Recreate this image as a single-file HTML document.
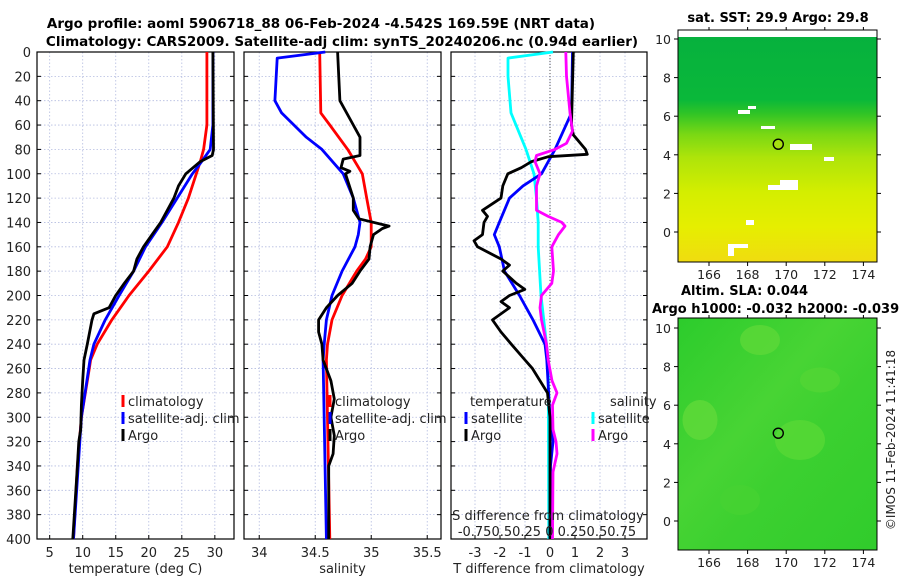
<!DOCTYPE html>
<html><head><meta charset="utf-8"><style>
body{margin:0;background:#fff}
svg text{font-family:"DejaVu Sans","Liberation Sans",sans-serif;fill:#222}
</style></head><body>
<svg id="fig" width="900" height="580" viewBox="0 0 900 580" xmlns="http://www.w3.org/2000/svg">
<defs>
<linearGradient id="sstg" x1="0" y1="0" x2="0" y2="1">
<stop offset="0" stop-color="#06b03e"/><stop offset="0.3" stop-color="#0ab83a"/><stop offset="0.36" stop-color="#30c426"/>
<stop offset="0.45" stop-color="#7ad814"/><stop offset="0.55" stop-color="#aee40a"/><stop offset="0.7" stop-color="#d4ee00"/>
<stop offset="0.85" stop-color="#e6ee00"/><stop offset="1" stop-color="#f0dc10"/></linearGradient>
<linearGradient id="slag" x1="0" y1="0" x2="1" y2="1">
<stop offset="0" stop-color="#2ccc2c"/><stop offset="0.4" stop-color="#48d434"/><stop offset="0.6" stop-color="#3cd030"/><stop offset="1" stop-color="#30cc2c"/></linearGradient>
</defs>
<text x="321" y="28" font-size="13.5" font-weight="bold" text-anchor="middle" style="fill:#000">Argo profile: aoml 5906718_88 06-Feb-2024 -4.542S 169.59E (NRT data)</text>
<text x="342" y="46" font-size="13.5" font-weight="bold" text-anchor="middle" style="fill:#000">Climatology: CARS2009. Satellite-adj clim: synTS_20240206.nc (0.94d earlier)</text>
<g id="p1"></g>
<g id="p2"></g>
<g id="p3"></g>
<g id="maps"></g>
<text transform="translate(895,440) rotate(-90)" font-size="12" text-anchor="middle">©IMOS 11-Feb-2024 11:41:18</text>
</svg>
<script>
// ---- data ----
const tempClimDepth = [0,60,80,90,100,120,140,160,180,200,220,240,253,260,300,340,400];
const tempClim      = [28.8,28.8,28.3,27.8,27.2,26,24.5,22.8,20,17,14.4,12.2,11.2,11,9.8,9.2,8.6];
const tempSatDepth  = [0,60,80,90,100,120,140,160,180,200,220,240,253,300,400];
const tempSat       = [29.7,29.7,29.3,28,26.6,24.3,22,19.5,17.7,15.5,13.4,11.7,11.1,9.8,8.6];
const tempArgoDepth = [0,80,85,90,100,110,120,130,140,150,160,170,180,190,200,210,215,220,240,253,270,290,310,320,340,400];
const tempArgo      = [29.7,29.8,29.6,27.8,25.6,24.5,23.8,22.8,21.8,20.5,19.2,18.2,17.7,16.3,15,14,11.7,11.4,10.7,10.2,10,9.8,9.7,9.4,9.2,8.5];
const salClimDepth  = [0,50,60,80,100,120,140,160,170,180,200,220,240,253,400];
const salClim       = [34.54,34.55,34.63,34.79,34.92,34.96,35.0,35.0,34.95,34.87,34.74,34.65,34.61,34.6,34.63];
const salSatDepth   = [0,5,40,50,70,80,100,120,140,150,160,180,200,220,240,253,400];
const salSat        = [34.59,34.16,34.14,34.2,34.42,34.56,34.75,34.84,34.9,34.885,34.855,34.74,34.65,34.6,34.58,34.57,34.6];
const salArgoDepth  = [0,40,60,70,85,88,95,98,100,120,130,137,143,145,150,160,170,180,190,200,210,220,230,240,253,270,285,300,315,330,340,400];
const salArgo       = [34.7,34.72,34.84,34.9,34.9,34.75,34.73,34.81,34.77,34.84,34.84,34.89,35.16,35.1,35.02,34.99,34.98,34.9,34.83,34.7,34.6,34.53,34.53,34.56,34.57,34.64,34.67,34.64,34.67,34.66,34.62,34.62];
const dTSatDepth    = [0,50,80,100,110,120,140,150,160,180,200,220,240,253,300,320,340,400];
const dTSat         = [0.9,0.86,0.2,-0.34,-1.08,-1.62,-2.03,-2.23,-2.03,-1.82,-1.22,-0.68,-0.2,-0.13,0,0.12,0.02,0];
const dTArgoDepth   = [0,60,68,80,84,86,90,95,100,110,120,130,135,140,150,155,160,170,175,180,190,195,200,205,210,220,230,240,253,260,280,300,400];
const dTArgo        = [0.93,0.86,0.93,1.42,1.49,-0.07,-0.74,-1.15,-1.69,-1.89,-1.96,-2.7,-2.5,-2.64,-2.7,-3.04,-2.9,-1.96,-1.62,-1.89,-1.35,-1.01,-1.62,-1.96,-1.62,-2.3,-1.96,-1.55,-1.0,-0.7,-0.1,0,0];
const dSSatDepth    = [0,5,20,50,80,100,120,140,160,200,240,253,400];
const dSSat         = [0.03,-0.42,-0.42,-0.39,-0.24,-0.16,-0.135,-0.118,-0.118,-0.09,-0.035,-0.018,-0.012];
const dSArgoDepth   = [0,20,50,65,75,80,85,90,100,110,130,135,140,143,150,160,180,190,200,210,220,240,253,270,280,290,310,320,330,345,400];
const dSArgo        = [0.158,0.165,0.2,0.225,0.165,0.05,-0.135,-0.15,-0.1,-0.135,-0.135,-0.018,0.118,0.15,0.085,0.018,0.035,0.018,-0.085,-0.1,-0.085,-0.035,-0.018,0.02,0.07,0.025,0.03,0.06,0.07,0.03,0.025];
const depthTicks = [0,20,40,60,80,100,120,140,160,180,200,220,240,260,280,300,320,340,360,380,400];
const tempTicks = [5,10,15,20,25,30];
const salTicks = [34,34.5,35,35.5];
const diffTicks = [-3,-2,-1,0,1,2,3];

const NS='http://www.w3.org/2000/svg';
function mk(parent,tag,attrs,txt){const e=document.createElementNS(NS,tag);for(const k in attrs)e.setAttribute(k,attrs[k]);if(txt!==undefined)e.textContent=txt;parent.appendChild(e);return e;}
const Y0=52, Y1=539;
const yD = d => Y0 + d*(Y1-Y0)/400;

function panel(g,x0,x1,xmin,xmax,ticks,xlabel,showY){
  const sx=v=>x0+(v-xmin)/(xmax-xmin)*(x1-x0);
  depthTicks.forEach(d=>{
    const l=mk(g,'line',{x1:x0,x2:x1,y1:yD(d),y2:yD(d),stroke:'#b4bce0','stroke-width':0.8,'stroke-dasharray':'1.5,2'});
    
    
    mk(g,'line',{x1:x0,x2:x0+4,y1:yD(d),y2:yD(d),stroke:'#000'});
    mk(g,'line',{x1:x1-4,x2:x1,y1:yD(d),y2:yD(d),stroke:'#000'});
    if(showY){const t=mk(g,'text',{x:x0-6,y:yD(d)+5,'font-size':13,'text-anchor':'end'},String(d));
      
      }
  });
  ticks.forEach(v=>{
    const l=mk(g,'line',{x1:sx(v),x2:sx(v),y1:Y0,y2:Y1,stroke:'#b4bce0','stroke-width':0.8,'stroke-dasharray':'1.5,2'});
    
    
    mk(g,'line',{x1:sx(v),x2:sx(v),y1:Y1,y2:Y1-4,stroke:'#000'});
    const t=mk(g,'text',{x:sx(v),y:557,'font-size':13,'text-anchor':'middle'},String(v));
    
    
  });
  const f=mk(g,'rect',{x:x0,y:Y0,width:x1-x0,height:Y1-Y0,fill:'none',stroke:'#000','stroke-width':1.2});
  
  
  const xl=mk(g,'text',{x:(x0+x1)/2,y:573,'font-size':13,'text-anchor':'middle'},xlabel);
  
  
  return sx;
}
function line(g,sx,vals,depths,color,name,scale){
  const pts=vals.map((v,i)=>sx(v*(scale||1)).toFixed(1)+','+yD(depths[i]).toFixed(1)).join(' ');
  const p=mk(g,'polyline',{points:pts,fill:'none',stroke:color,'stroke-width':2.8,'stroke-linejoin':'round'});
  
  
}
function legItem(g,x,y,color,label,name){
  mk(g,'rect',{x:x-1.5,y:y-11,width:3,height:12,fill:color});
  const t=mk(g,'text',{x:x+5,y:y,'font-size':13},label);
  
  
}

const g1=document.getElementById('p1');
const sx1=panel(g1,37,234,3.08,32.9,tempTicks,'temperature (deg C)',true);
line(g1,sx1,tempClim,tempClimDepth,'#ff0000','temp-climatology-line');
line(g1,sx1,tempSat,tempSatDepth,'#0000ff','temp-satellite-line');
line(g1,sx1,tempArgo,tempArgoDepth,'#000000','temp-argo-line');
legItem(g1,123,406,'#ff0000','climatology','legend-climatology');
legItem(g1,123,423,'#0000ff','satellite-adj. clim','legend-satellite');
legItem(g1,123,440,'#000000','Argo','legend-argo');

const g2=document.getElementById('p2');
const sx2=panel(g2,244,441,33.864,35.623,salTicks,'salinity',false);
line(g2,sx2,salClim,salClimDepth,'#ff0000','sal-climatology-line');
line(g2,sx2,salSat,salSatDepth,'#0000ff','sal-satellite-line');
line(g2,sx2,salArgo,salArgoDepth,'#000000','sal-argo-line');
legItem(g2,330,406,'#ff0000','climatology','legend-climatology-sal');
legItem(g2,330,423,'#0000ff','satellite-adj. clim','legend-satellite-sal');
legItem(g2,330,440,'#000000','Argo','legend-argo-sal');

const g3=document.getElementById('p3');
const sx3=panel(g3,451,647,-3.96,3.88,diffTicks,'T difference from climatology',false);
mk(g3,'line',{x1:sx3(0),x2:sx3(0),y1:Y0,y2:Y1,stroke:'#555','stroke-width':1,'stroke-dasharray':'1,2'});
line(g3,sx3,dSSat,dSSatDepth,'#00ffff','sal-diff-satellite-line',4);
line(g3,sx3,dTSat,dTSatDepth,'#0000ff','temp-diff-satellite-line');
line(g3,sx3,dTArgo,dTArgoDepth,'#000000','temp-diff-argo-line');
line(g3,sx3,dSArgo,dSArgoDepth,'#ff00ff','sal-diff-argo-line',4);
mk(g3,'text',{x:470,y:406,'font-size':13},'temperature');
mk(g3,'text',{x:610,y:406,'font-size':13},'salinity');
legItem(g3,466,423,'#0000ff','satellite','legend-temp-satellite');
legItem(g3,466,440,'#000000','Argo','legend-temp-argo');
legItem(g3,593,423,'#00ffff','satellite','legend-sal-satellite');
legItem(g3,593,440,'#ff00ff','Argo','legend-sal-argo');
const st=mk(g3,'text',{x:548,y:520,'font-size':13,'text-anchor':'middle'},'S difference from climatology');


const sl=mk(g3,'text',{x:547,y:536,'font-size':13,'text-anchor':'middle'},'-0.750.50.25 0 0.250.50.75');



// ---- maps ----
const lonTicks=[166,168,170,172,174];
const latTicks=[0,2,4,6,8,10];
const gm=document.getElementById('maps');
function map(top,bot,lat0y,fill,title,name,argoLat){
  const lx=v=>709+(v-166)*19.3, ly=v=>lat0y-v*19.3;
  const r=mk(gm,'rect',{x:678,y:top,width:199,height:bot-top,fill:fill});
  
  
  lonTicks.forEach(v=>{mk(gm,'line',{x1:lx(v),x2:lx(v),y1:bot,y2:bot+4,stroke:'#000'});
    mk(gm,'line',{x1:lx(v),x2:lx(v),y1:top,y2:top-3,stroke:'#000'});
    const t=mk(gm,'text',{x:lx(v),y:bot+17,'font-size':12.5,'text-anchor':'middle'},String(v));
    
    });
  latTicks.forEach(v=>{mk(gm,'line',{x1:674,x2:678,y1:ly(v),y2:ly(v),stroke:'#000'});
    mk(gm,'line',{x1:877,x2:881,y1:ly(v),y2:ly(v),stroke:'#000'});
    const t=mk(gm,'text',{x:671,y:ly(v)+5,'font-size':12.5,'text-anchor':'end'},String(v));
    
    });
  return {lx,ly};
}
const m1=map(30,262,232,'url(#sstg)','','sst-map');
mk(gm,'rect',{x:678,y:30,width:199,height:7,fill:'#fff'});
[[738,110,12,4],[748,106,8,3],[761,126,14,3],[790,144,22,6],[768,185,30,5],[780,180,18,6],[728,246,6,10],[728,244,20,4],[824,157,10,4],[746,220,8,5]].forEach(b=>mk(gm,'rect',{x:b[0],y:b[1],width:b[2],height:b[3],fill:'#fff'}));
const c1=mk(gm,'circle',{cx:m1.lx(169.59),cy:m1.ly(4.55),r:5,fill:'#a6e010',stroke:'#000','stroke-width':1.4});


mk(gm,'rect',{x:678,y:30,width:199,height:232,fill:'none',stroke:'#000'});
mk(gm,'text',{x:778,y:22,'font-size':13,'font-weight':'bold','text-anchor':'middle',style:'fill:#000'},'sat. SST: 29.9  Argo: 29.8');

const m2=map(318,550,521,'url(#slag)','','sla-map');
[[760,340,40,30,'#5cd838'],[700,420,35,40,'#60da3a'],[800,440,50,40,'#58d836'],[820,380,40,25,'#52d634'],[740,500,40,30,'#46d232']].forEach(b=>mk(gm,'ellipse',{cx:b[0],cy:b[1],rx:b[2]/2,ry:b[3]/2,fill:b[4],opacity:0.8}));
const c2=mk(gm,'circle',{cx:m2.lx(169.59),cy:m2.ly(4.55),r:5,fill:'none',stroke:'#000','stroke-width':1.4});


mk(gm,'rect',{x:678,y:318,width:199,height:232,fill:'none',stroke:'#000'});
mk(gm,'text',{x:681,y:295,'font-size':13,'font-weight':'bold',style:'fill:#000'},'Altim. SLA: 0.044');
mk(gm,'text',{x:652,y:313,'font-size':13,'font-weight':'bold',style:'fill:#000'},'Argo h1000: -0.032 h2000: -0.039');
</script>
</body></html>
